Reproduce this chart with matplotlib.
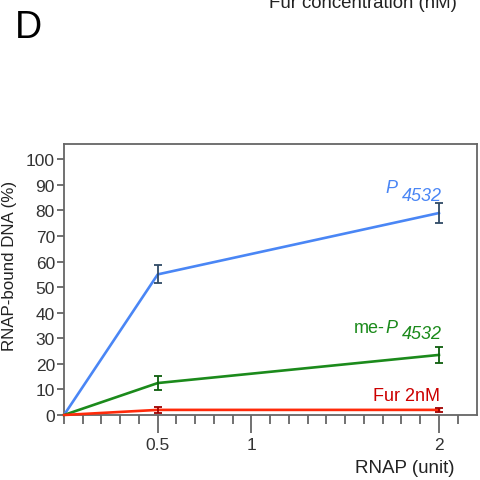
import matplotlib
matplotlib.use("Agg")
import matplotlib.pyplot as plt
import numpy as np

plt.rcParams['font.family'] = ['Liberation Sans', 'DejaVu Sans']

rnap = [0, 0.5, 2]
p4532 = [0, 55, 79]
p4532_err = [0, 3.5, 4]
me_p4532 = [0, 12.5, 23.5]
me_p4532_err = [0, 2.8, 3.2]
fur = [0, 2, 2]
fur_err = [0, 1.1, 0.8]

xticks_major = [0.5, 1, 2]
xtick_labels = ['0.5', '1', '2']
yticks = list(range(0, 101, 10))

fig = plt.figure(figsize=(4.81, 4.81), dpi=100)
ax = fig.add_axes([64/481, 1-416/481, (477-64)/481, (416-145)/481])

blue = '#4a86f5'
green = '#1b8a1b'
red = '#ff2a0a'

ax.plot(rnap, p4532, color=blue, lw=1.9, zorder=3, clip_on=False)
ax.errorbar(rnap[1:], p4532[1:], yerr=p4532_err[1:], fmt='none', ecolor='#2f4a66',
            elinewidth=1.3, capsize=3, capthick=1.3, zorder=4, clip_on=False)
ax.plot(rnap, me_p4532, color=green, lw=1.9, zorder=3, clip_on=False)
ax.errorbar(rnap[1:], me_p4532[1:], yerr=me_p4532_err[1:], fmt='none', ecolor='#0d5e0d',
            elinewidth=1.3, capsize=3, capthick=1.3, zorder=4, clip_on=False)
ax.plot(rnap, fur, color=red, lw=1.9, zorder=3, clip_on=False)
ax.errorbar(rnap[1:], fur[1:], yerr=fur_err[1:], fmt='none', ecolor='#a00000',
            elinewidth=1.3, capsize=3, capthick=1.3, zorder=4, clip_on=False)

ax.set_xlim(0, 2.203)
ax.set_ylim(0, 106)

ax.set_xticks(xticks_major)
ax.set_xticklabels(xtick_labels)
minor = [round(0.1*i, 1) for i in range(0, 22) if round(0.1*i, 1) not in xticks_major]
ax.set_xticks(minor, minor=True)
ax.set_yticks(yticks)
ax.set_yticklabels([str(v) for v in yticks])

spine_c = '#666666'
for s in ax.spines.values():
    s.set_color(spine_c)
    s.set_linewidth(1.3)
ax.tick_params(axis='both', which='both', colors=spine_c, labelcolor='#333333',
               labelsize=12.5, width=1.3, direction='out')
ax.tick_params(axis='x', which='major', length=13, pad=3)
ax.tick_params(axis='x', which='minor', length=6.5)
ax.tick_params(axis='y', which='major', length=5, pad=1.5)

ax.set_xlabel('RNAP (unit)', fontsize=13.5, color='#222222')
ax.xaxis.label.set_va('baseline')
ax.xaxis.label.set_ha('center')
ax.xaxis.set_label_coords((405-64)/413, (416-473)/271)
ax.set_ylabel('RNAP-bound DNA (%)', fontsize=12.2, color='#222222')
ax.yaxis.label.set_va('center')
ax.yaxis.set_label_coords((10-64)/413, (416-266)/271)

fs_ann = 13
ax.text(1.781, 87.1, 'P', color=blue, fontsize=fs_ann, style='italic', ha='right', va='baseline')
ax.text(2.016, 84.1, '4532', color=blue, fontsize=fs_ann, style='italic', ha='right', va='baseline')
ax.text(1.776, 32.4, 'P', color=green, fontsize=fs_ann, style='italic', ha='right', va='baseline')
ax.text(1.713, 32.4, 'me-', color=green, fontsize=fs_ann, ha='right', va='baseline')
ax.text(2.016, 30.1, '4532', color=green, fontsize=fs_ann, style='italic', ha='right', va='baseline')
ax.text(2.005, 6.0, 'Fur 2nM', color='#cc0000', fontsize=fs_ann, ha='right', va='baseline')

fig.text(15/481, 1-38/481, 'D', fontsize=27, ha='left', va='baseline')
fig.text(363/481, 1-8/481, 'Fur concentration (nM)', fontsize=13.4, color='#222222',
         ha='center', va='baseline')

fig.savefig('out.png', dpi=100)
